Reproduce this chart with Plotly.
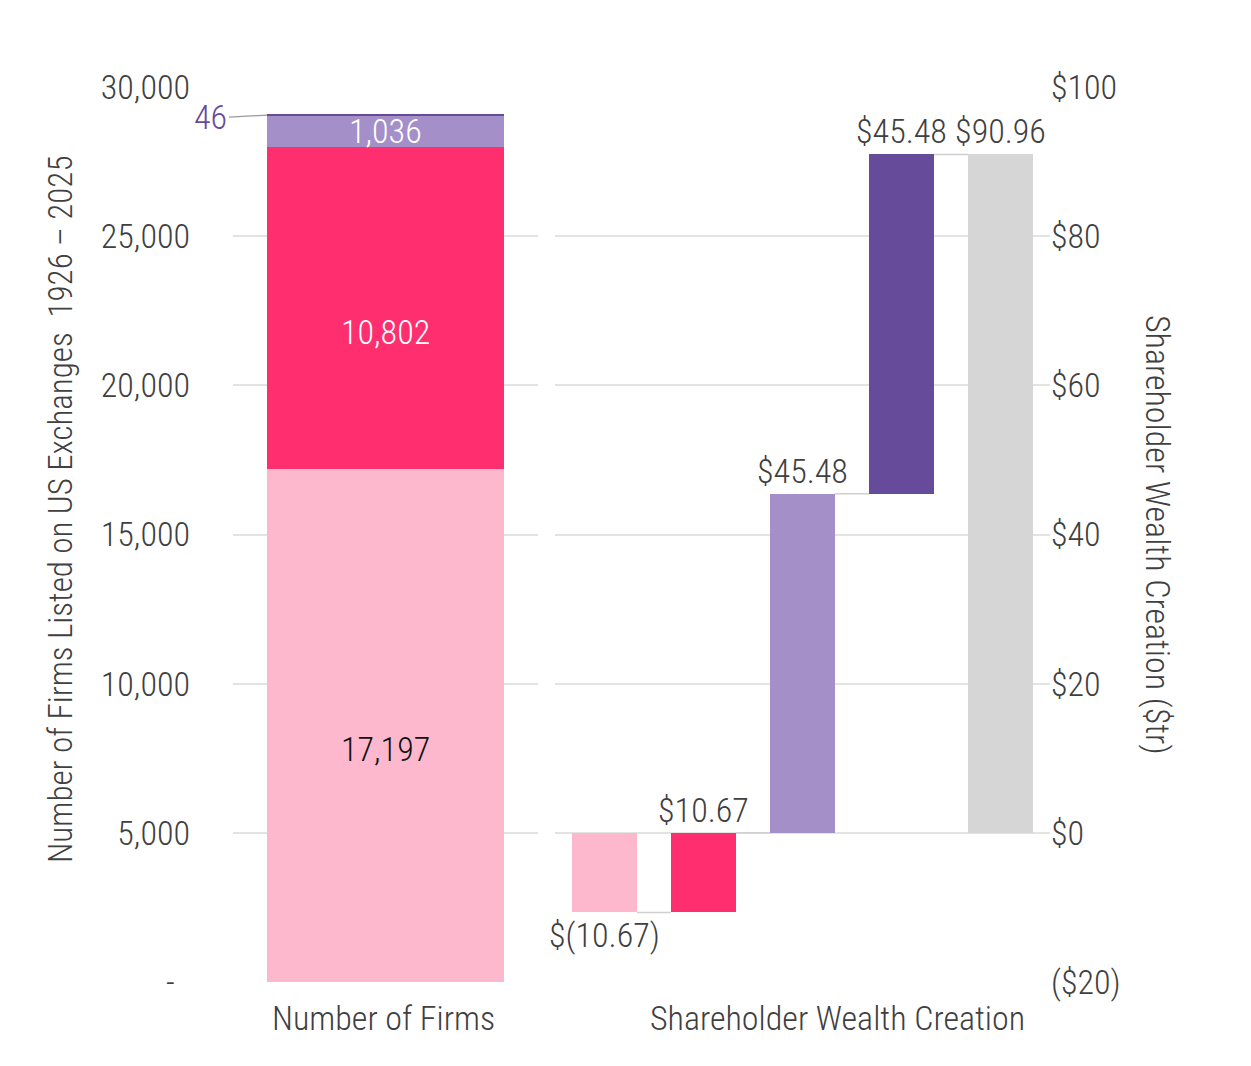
import plotly.graph_objects as go

FONT = "Roboto Condensed, Liberation Sans Narrow, Arial Narrow, DejaVu Sans Condensed, Roboto, sans-serif"
TXT = "#404040"
WT = 300

# Left panel: number of firms (stacked)
firm_groups = ["g1", "g2", "g3", "g4"]
firm_counts = [17197, 10802, 1036, 46]
firm_colors = ["#FDB8CE", "#FF2E6E", "#A48FC8", "#674B9B"]
firm_label_colors = ["#111111", "#FFFFFF", "#FFFFFF", "#674B9B"]

# Right panel: shareholder wealth creation waterfall ($tr)
wealth_steps = ["s1", "s2", "s3", "s4", "total"]
wealth_values = [-10.67, 10.67, 45.48, 45.48, 90.96]
wealth_is_total = [False, False, False, False, True]
wealth_labels = ["$(10.67)", "$10.67", "$45.48", "$45.48", "$90.96"]
wealth_colors = ["#FDB8CE", "#FF2E6E", "#A48FC8", "#674B9B", "#D6D6D6"]

left_ticks = [0, 5000, 10000, 15000, 20000, 25000, 30000]
left_ticktext = ["-\u00a0\u00a0", "5,000", "10,000", "15,000", "20,000", "25,000", "30,000"]
right_ticks = [-20, 0, 20, 40, 60, 80, 100]
right_ticktext = ["($20)", "$0", "$20", "$40", "$60", "$80", "$100"]

SZ = 34


def f(size=SZ, color=TXT):
    return dict(family=FONT, size=size, color=color, weight=WT)


fig = go.Figure()

BW = 0.777
cum_f = 0
for i, (g, v, c, lc) in enumerate(zip(firm_groups, firm_counts, firm_colors, firm_label_colors)):
    fig.add_trace(go.Bar(
        x=[0], y=[v], marker=dict(color=c, line=dict(width=0)), width=BW,
        textposition="none",
        xaxis="x", yaxis="y", showlegend=False, hoverinfo="skip", cliponaxis=False,
    ))
    mid = cum_f + v / 2
    cum_f += v
    if i < 2:
        fig.add_annotation(x=0, y=mid, xref="x", yref="y", text=f"{v:,}", showarrow=False,
                           yshift=-24, font=f(SZ, lc))
    elif i == 2:
        fig.add_annotation(x=0, y=mid, xref="x", yref="y", text=f"{v:,}", showarrow=False,
                           yshift=0, font=f(SZ, lc))
    else:
        fig.add_annotation(
            x=-BW / 2, y=mid, xref="x", yref="y",
            text=f"{v:,}", showarrow=True, arrowhead=0, arrowwidth=1.2,
            arrowcolor="#9A9A9A", ax=-38, ay=2, xanchor="right", yanchor="middle",
            font=f(SZ, lc),
        )

bases = []
cum = 0.0
for v, tot in zip(wealth_values, wealth_is_total):
    if tot:
        bases.append(0.0)
    else:
        bases.append(cum)
        cum += v
W = 0.657
xs = list(range(len(wealth_values)))
for i in xs:
    fig.add_trace(go.Bar(
        x=[i], y=[wealth_values[i]], base=[bases[i]], width=W,
        marker=dict(color=wealth_colors[i], line=dict(width=0)),
        text=[wealth_labels[i]], textposition="outside", textangle=0, constraintext="none",
        textfont=f(),
        xaxis="x2", yaxis="y2", showlegend=False, hoverinfo="skip", cliponaxis=False,
    ))

ends = [b + v for b, v in zip(bases, wealth_values)]
for i in range(len(xs) - 1):
    level = ends[i]
    fig.add_trace(go.Scatter(
        x=[xs[i] + W / 2, xs[i + 1] - W / 2], y=[level, level], mode="lines",
        line=dict(color="#D0D0D0", width=1.5), xaxis="x2", yaxis="y2",
        showlegend=False, hoverinfo="skip",
    ))

fig.update_layout(
    width=1251, height=1066, barmode="stack",
    margin=dict(l=233, r=201, t=87, b=84),
    paper_bgcolor="white", plot_bgcolor="white",
    font=f(),
    xaxis=dict(domain=[0, 0.3733], range=[-0.5, 0.5], showticklabels=False,
               showgrid=False, zeroline=False),
    yaxis=dict(anchor="x", range=[0, 30000], tickvals=left_ticks, ticktext=left_ticktext,
               showgrid=True, gridcolor="#E3E3E3", gridwidth=1.5, zeroline=False,
               ticks="", ticklabelstandoff=42, tickfont=f()),
    xaxis2=dict(domain=[0.3941, 1], range=[-0.5, 4.5], showticklabels=False,
                showgrid=False, zeroline=False, anchor="y2"),
    yaxis2=dict(anchor="x2", side="right", range=[-20, 100], tickvals=right_ticks,
                ticktext=right_ticktext, showgrid=True, gridcolor="#E3E3E3", gridwidth=1.5,
                zeroline=False, ticks="", ticklabelstandoff=0, tickfont=f()),
)

fig.add_annotation(text="Number of Firms Listed on US Exchanges  1926 \u2013 2025",
                   xref="paper", yref="paper", x=-(233 - 60) / 817, y=(1066 - 84 - 510) / 895,
                   textangle=-90, showarrow=False, xanchor="center", yanchor="middle",
                   font=f(33))
fig.add_annotation(text="Shareholder Wealth Creation ($tr)",
                   xref="paper", yref="paper", x=(1158 - 233) / 817, y=(1066 - 84 - 535) / 895,
                   textangle=90, showarrow=False, xanchor="center", yanchor="middle",
                   font=f(34))
fig.add_annotation(text="Number of Firms", xref="paper", yref="paper",
                   x=(383 - 233) / 817, y=-(1018 - 982) / 895, showarrow=False,
                   xanchor="center", yanchor="middle", font=f())
fig.add_annotation(text="Shareholder Wealth Creation", xref="paper", yref="paper",
                   x=(837 - 233) / 817, y=-(1018 - 982) / 895, showarrow=False,
                   xanchor="center", yanchor="middle", font=f())

fig.write_html("out.html")
